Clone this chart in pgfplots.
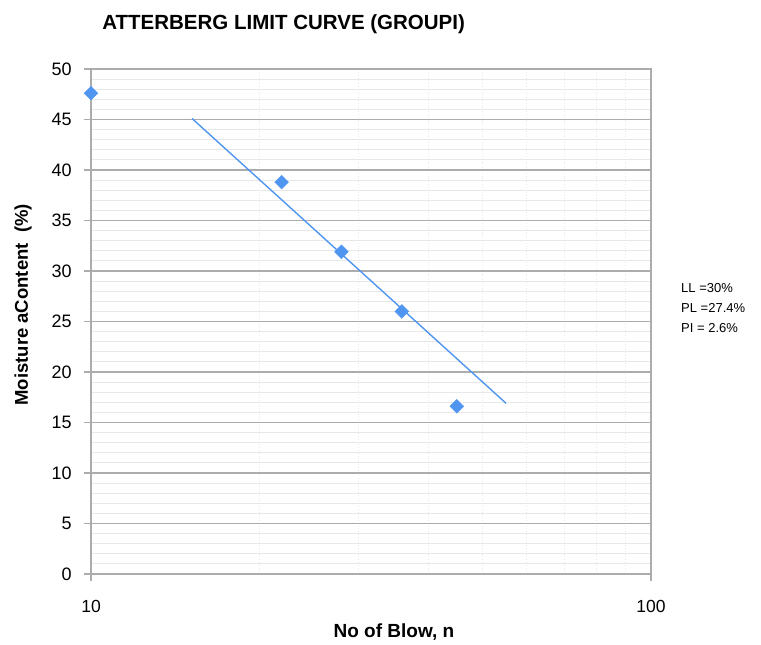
\documentclass[border=0pt]{standalone}
\usepackage{pgfplots}
\pgfplotsset{compat=1.18}
\usepackage{fontspec}
\setmainfont{Liberation Sans}
\definecolor{mk}{RGB}{80,150,240}
\definecolor{majg}{RGB}{172,172,172}
\definecolor{ming}{RGB}{232,232,232}
\begin{document}
\begin{tikzpicture}[x=1pt,y=1pt]
\useasboundingbox (0,0) rectangle (761,645);
\begin{axis}[
  at={(91pt,71pt)}, anchor=south west,
  scale only axis, width=560pt, height=505pt,
  xmode=log, xmin=10, xmax=100, ymin=0, ymax=50,
  log basis x=10,
  xtick={10,100}, xticklabels={10,100},
  minor xtick={20,30,40,50,60,70,80,90},
  ytick={0,5,...,50},
  minor ytick={1,2,...,49},
  tick pos=left,
  /pgf/number format/assume math mode=true,
  yticklabel style={font=\fontsize{18}{18}\selectfont, xshift=-9pt},
  xticklabel style={font=\fontsize{17.5}{18}\selectfont, yshift=-16pt},
  ymajorgrids, yminorgrids, xminorgrids,
  major grid style={majg, line width=1.1pt},
  minor grid style={ming, line width=0.8pt},
  every minor x grid/.style={ming, dotted, line width=0.8pt},
  axis line style={majg, line width=1.1pt},
  tick align=outside, major tick length=7pt, minor tick length=0pt,
  every tick/.style={majg, line width=1.1pt},
  title={\bfseries ATTERBERG LIMIT CURVE (GROUPI)},
  title style={font=\fontsize{20.5}{20}\selectfont, at={(0.344,1.077)}, anchor=center},
  xlabel={\bfseries No of Blow, n},
  xlabel style={font=\fontsize{19}{19}\selectfont, at={(0.541,-0.1149)}, anchor=center},
  ylabel={\bfseries Moisture aContent \ (\%)},
  ylabel style={font=\fontsize{18.5}{18}\selectfont, at={(-0.1214,0.533)}, anchor=center},
  clip=false,
]
\addplot[mk, line width=1.4pt] coordinates {(15.15,45.1) (55.1,16.9)};
\addplot[only marks, mark=square*, mark size=4.9pt, mark options={draw=mk, fill=mk, rotate=45}] coordinates {
  (10,47.6) (21.9,38.8) (28,31.9) (35.9,26.0) (45,16.6)};
\end{axis}
\node[anchor=north west, align=left, font=\fontsize{13}{20}\selectfont, inner sep=0pt] at (681,362) {LL =30\%\\PL =27.4\%\\PI = 2.6\%};
\end{tikzpicture}
\end{document}
